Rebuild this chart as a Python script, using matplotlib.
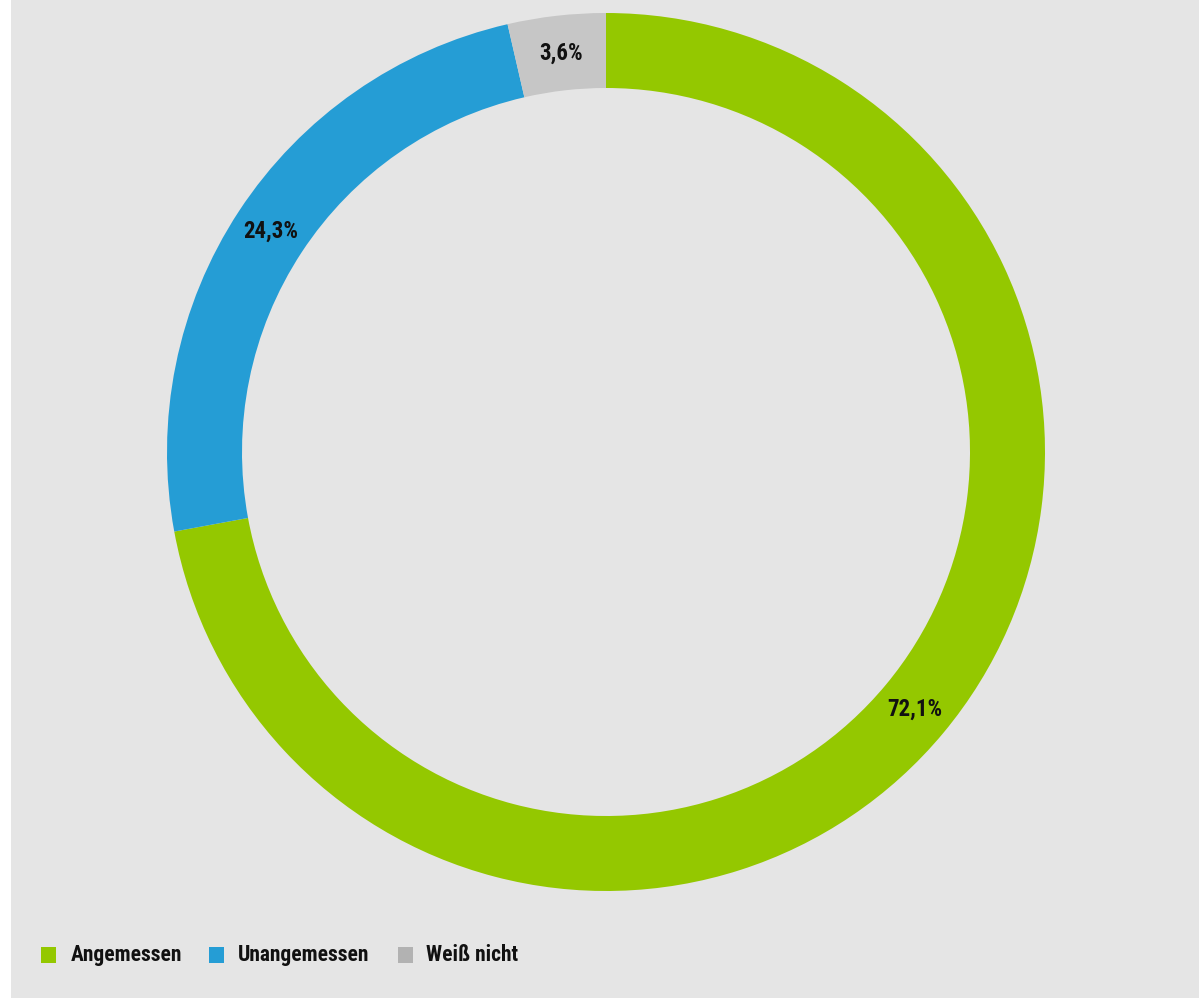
import matplotlib
matplotlib.use("Agg")
import matplotlib.pyplot as plt
from matplotlib.patches import Rectangle
from matplotlib import font_manager as fm
import numpy as np

categories = ["Angemessen", "Unangemessen", "Weiß nicht"]
values = [72.1, 24.3, 3.6]
colors = ["#94c800", "#259dd5", "#c6c6c6"]
legend_colors = ["#94c800", "#259dd5", "#b2b2b2"]

W, H = 1199, 998
fig = plt.figure(figsize=(W / 100, H / 100), dpi=100, facecolor="white")
fig.patches.append(Rectangle((11 / W, 0), 1 - 11 / W, 1, transform=fig.transFigure,
                             facecolor="#e5e5e5", edgecolor="none", zorder=-5))

names = {f.name for f in fm.fontManager.ttflist}
main = "Roboto"
for cand in ["Roboto Condensed", "Liberation Sans Narrow", "Open Sans Condensed"]:
    if cand in names:
        main = cand
        break
font = [main, "DejaVu Sans"]
fs_leg = 15.5
fs_lab = 16.5

cx, cy, R = 606, 452, 439
ax = fig.add_axes([(cx - R) / W, (H - cy - R) / H, 2 * R / W, 2 * R / H])
ax.set_facecolor("none")
ax.axis("off")
ring = 75 / R
wedges, _ = ax.pie(values, colors=colors, startangle=90, counterclock=False,
                   radius=1, wedgeprops=dict(width=ring, edgecolor="none"))
ax.set_xlim(-1, 1)
ax.set_ylim(-1, 1)

rmid = 1 - ring / 2
start = 90.0
for v in values:
    ang = np.deg2rad(start - v * 3.6 / 2)
    ax.text(rmid * np.cos(ang), rmid * np.sin(ang), f"{v:.1f}".replace(".", ",") + "%",
            ha="center", va="center", fontsize=fs_lab, fontweight="bold", family=font,
            color="#111111")
    start -= v * 3.6

sq_x = [41, 209, 398]
txt_x = [71, 238, 426]
for c, lc, sx, tx in zip(categories, legend_colors, sq_x, txt_x):
    fig.patches.append(Rectangle((sx / W, (H - 963) / H), 15 / W, 16 / H,
                                 transform=fig.transFigure, facecolor=lc,
                                 edgecolor="none", zorder=2))
    fig.text(tx / W, (H - 955) / H, c, ha="left", va="center", fontsize=fs_leg,
             fontweight="bold", family=font, color="#111111")

fig.savefig("out.png", dpi=100, facecolor=fig.get_facecolor())
